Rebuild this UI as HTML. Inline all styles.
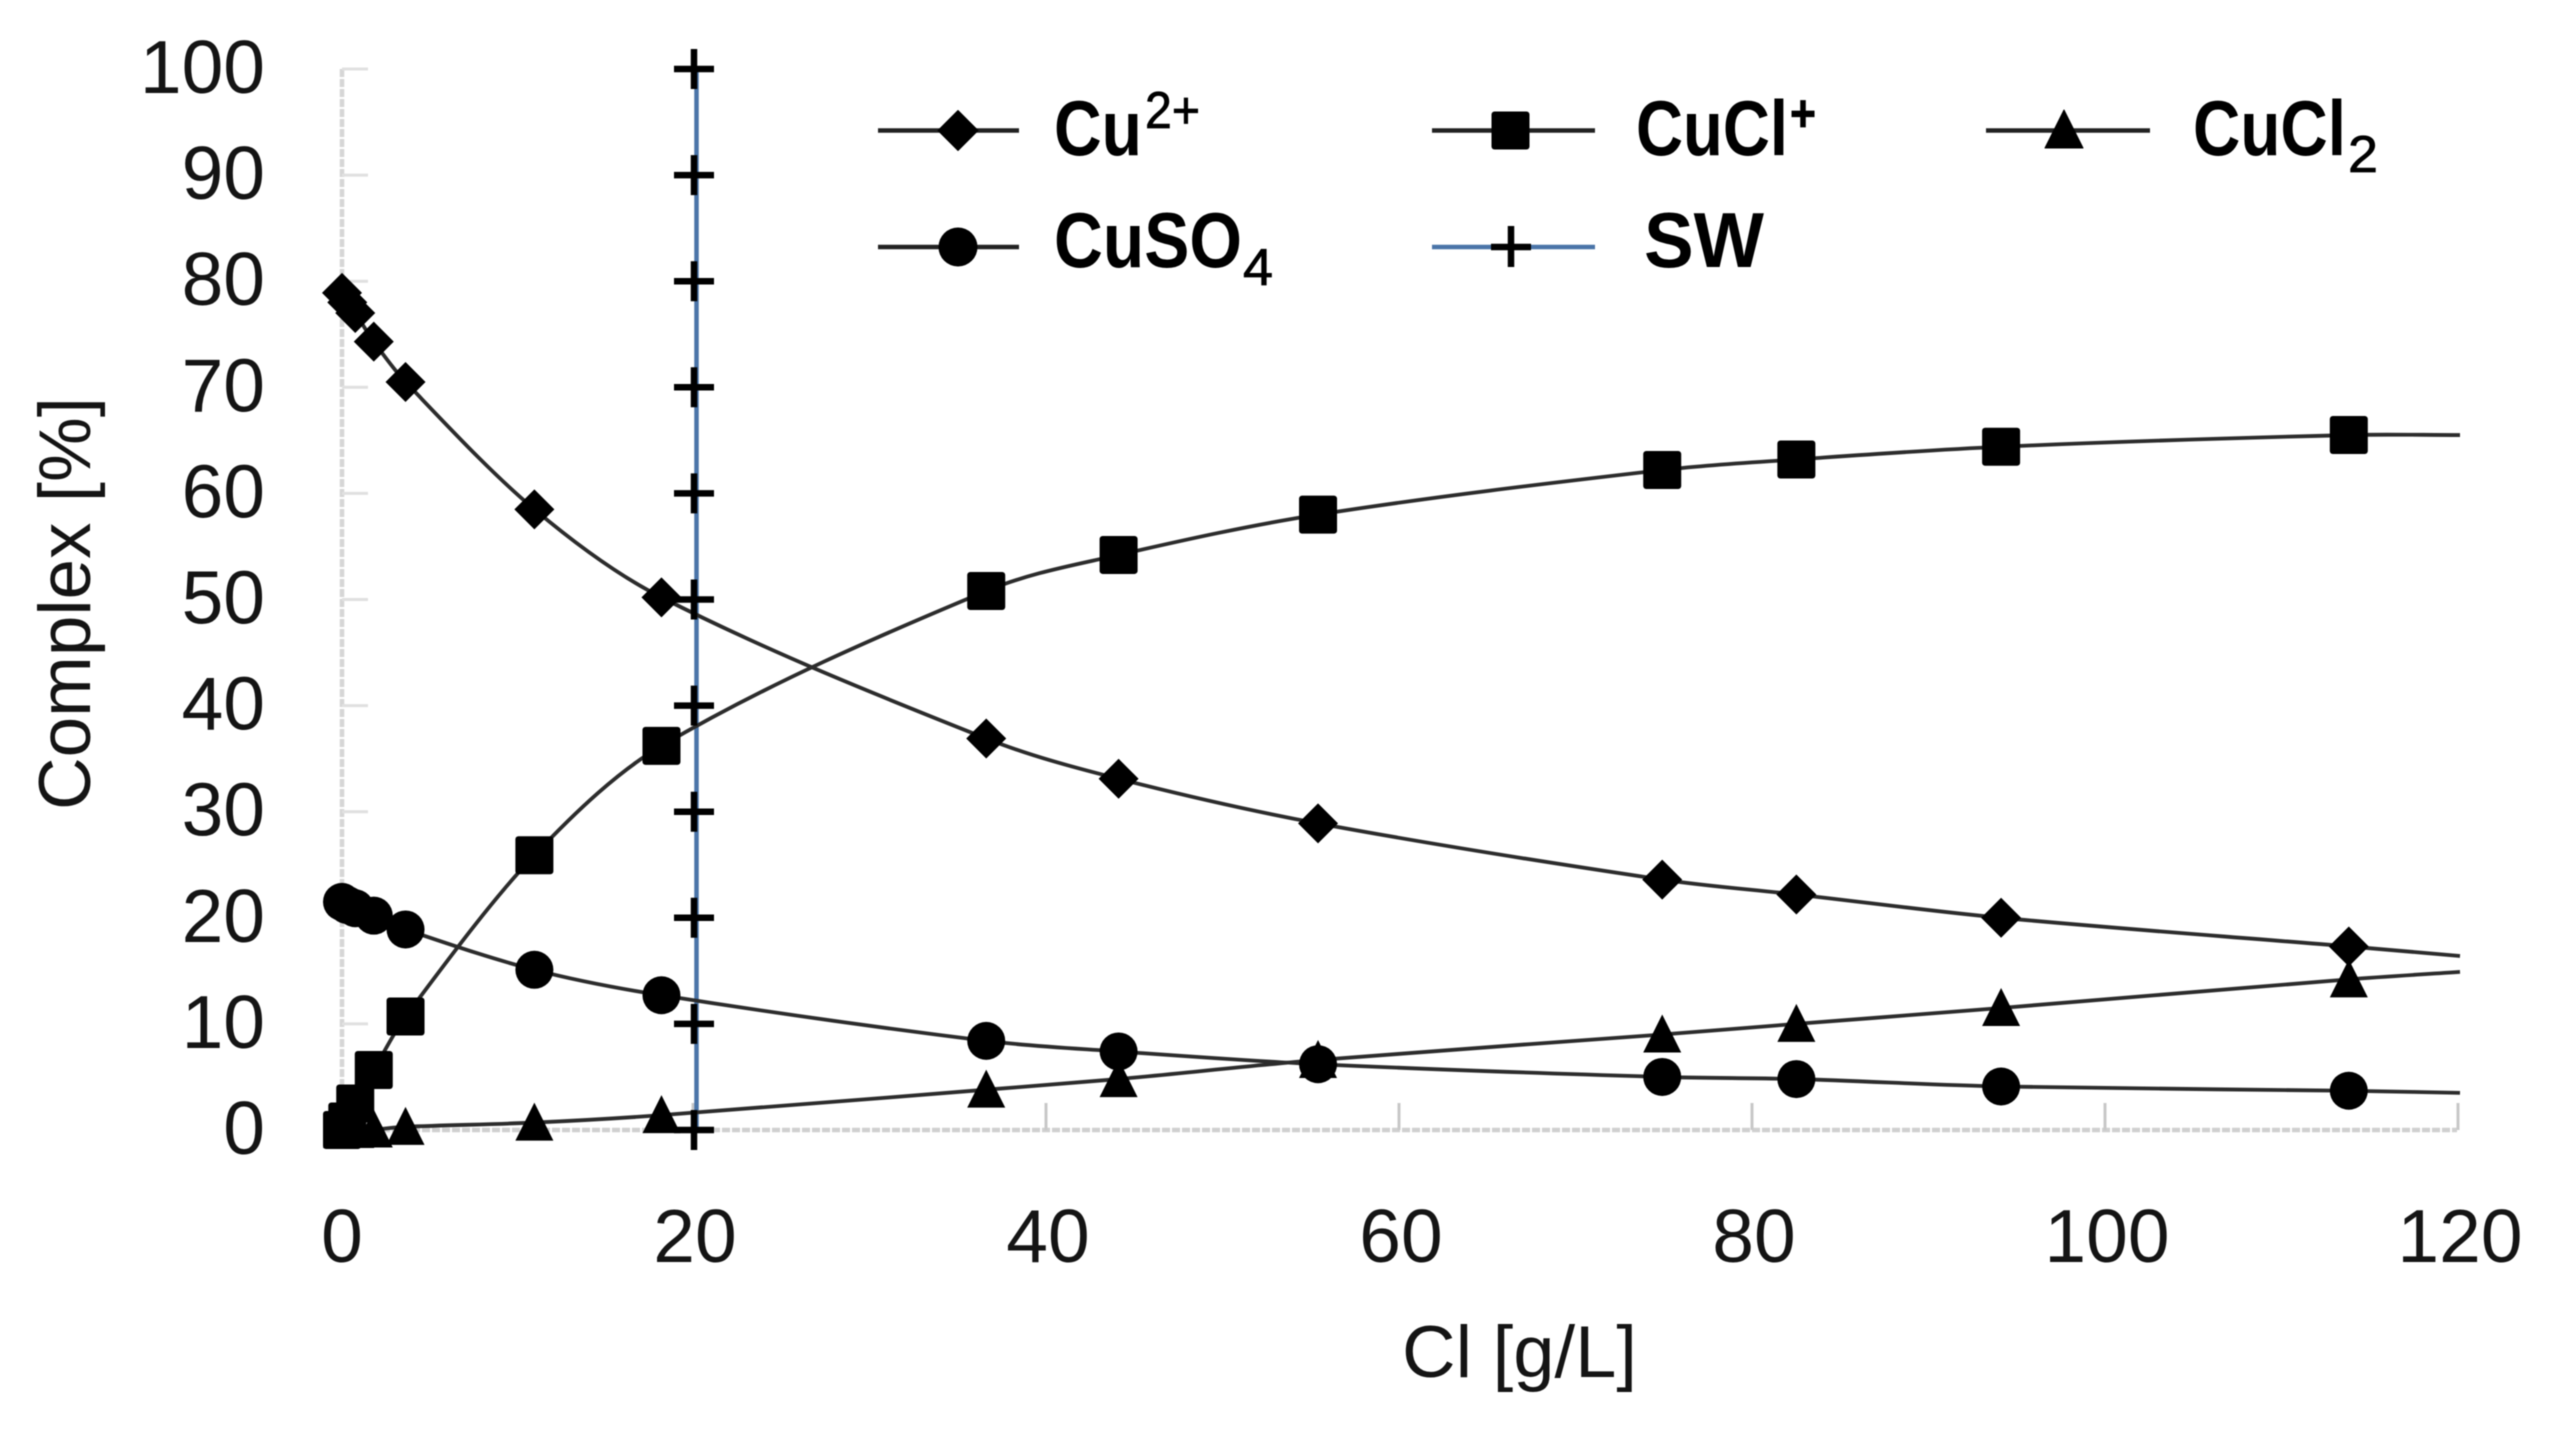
<!DOCTYPE html>
<html lang="en">
<head>
<meta charset="utf-8">
<title>Copper complex speciation vs chloride</title>
<style>
html,body{margin:0;padding:0;background:#fff;}
#chart{display:block;width:2558px;height:1445px;filter:blur(0.6px);}
text{font-family:"Liberation Sans",sans-serif;fill:#141414;}
.leg{font-weight:bold;fill:#000;font-size:78px;}
.legsub{fill:#000;font-size:52px;stroke:#000;stroke-width:0.8px;}
.tick{font-size:75px;}
.title{font-size:73px;}
</style>
</head>
<body>
<svg id="chart" xmlns="http://www.w3.org/2000/svg" width="2558" height="1445" viewBox="0 0 2558 1445">
  <rect x="0" y="0" width="2558" height="1445" fill="#fff"/>
  <g id="axes"></g>
  <g id="ticklabels"></g>
  <g id="series"></g>

  <text class="title" x="0" y="0" transform="translate(90,810) rotate(-90)" textLength="413" lengthAdjust="spacingAndGlyphs">Complex [%]</text>
  <text class="title" x="1402" y="1377" textLength="235" lengthAdjust="spacingAndGlyphs">Cl [g/L]</text>

  <g>
    <g>
      <line x1="878" y1="130.5" x2="1019" y2="130.5" stroke="#222" stroke-width="4.5"/>
      <path d="M958 110.5 L978 130.5 L958 150.5 L938 130.5 Z" fill="#000" stroke="#000" stroke-width="1" stroke-linejoin="round"/>
      <text class="leg" x="1054" y="155" textLength="88" lengthAdjust="spacingAndGlyphs">Cu</text>
      <text class="legsub" x="1145" y="128" textLength="55" lengthAdjust="spacingAndGlyphs">2+</text>
    </g>
    <g>
      <line x1="1432" y1="130.5" x2="1595" y2="130.5" stroke="#222" stroke-width="4.5"/>
      <rect x="1491.5" y="111.5" width="38" height="38" rx="3" fill="#000"/>
      <text class="leg" x="1636" y="155" textLength="152" lengthAdjust="spacingAndGlyphs">CuCl</text>
      <text class="legsub" x="1790" y="131" textLength="26" lengthAdjust="spacingAndGlyphs" font-weight="bold">+</text>
    </g>
    <g>
      <line x1="1986" y1="130.5" x2="2150" y2="130.5" stroke="#222" stroke-width="4.5"/>
      <path d="M2064 110 L2083 148 L2045 148 Z" fill="#000" stroke="#000" stroke-width="1" stroke-linejoin="round"/>
      <text class="leg" x="2193" y="155" textLength="153" lengthAdjust="spacingAndGlyphs">CuCl</text>
      <text class="legsub" x="2348" y="172" textLength="30" lengthAdjust="spacingAndGlyphs">2</text>
    </g>
    <g>
      <line x1="878" y1="247" x2="1019" y2="247" stroke="#222" stroke-width="4.5"/>
      <circle cx="958" cy="247" r="19.5" fill="#000"/>
      <text class="leg" x="1054" y="267" textLength="188" lengthAdjust="spacingAndGlyphs">CuSO</text>
      <text class="legsub" x="1243" y="285" textLength="30" lengthAdjust="spacingAndGlyphs">4</text>
    </g>
    <g>
      <line x1="1432" y1="247" x2="1595" y2="247" stroke="#4a74a8" stroke-width="4.5"/>
      <path d="M1491 247 H1531 M1511 226 V267" stroke="#000" stroke-width="6.5" fill="none"/>
      <text class="leg" x="1644" y="267" textLength="120" lengthAdjust="spacingAndGlyphs">SW</text>
    </g>
  </g>
</svg>
<script>
const xValues = [0, 0.3, 0.75, 1.8, 3.6, 10.9, 18.1, 36.5, 44, 55.3, 74.8, 82.4, 94, 113.7, 120];
const cuValues = [78.9, 78.0, 77.0, 74.3, 70.5, 58.5, 50.2, 36.9, 33.1, 28.9, 23.6, 22.2, 20.0, 17.3, 16.4];
const cuclValues = [0, 0.8, 2.5, 5.65, 10.7, 25.9, 36.2, 50.8, 54.2, 58.0, 62.2, 63.2, 64.4, 65.5, 65.5];
const cucl2Values = [0, 0, 0, 0.05, 0.3, 0.7, 1.4, 3.8, 4.8, 6.6, 9.0, 10.0, 11.5, 14.2, 14.9];
const cuso4Values = [21.5, 21.2, 20.9, 20.2, 18.9, 15.1, 12.7, 8.4, 7.4, 6.2, 5.0, 4.8, 4.1, 3.7, 3.5];
const swX = [20, 20, 20, 20, 20, 20, 20, 20, 20, 20, 20];
const swValues = [0, 10, 20, 30, 40, 50, 60, 70, 80, 90, 100];
const xTicks = [0, 20, 40, 60, 80, 100, 120];
const yTicks = [0, 10, 20, 30, 40, 50, 60, 70, 80, 90, 100];
const markedPoints = 14;

const NS = 'http://www.w3.org/2000/svg';
function sx(v) { return 342 + 17.65 * v; }
function sy(v) { return 1130 - 10.61 * v; }
function mk(tag, parent) {
  const el = document.createElementNS(NS, tag);
  parent.appendChild(el);
  return el;
}
function smoothPath(xs, ys) {
  const p = xs.map(function (x, i) { return [sx(x), sy(ys[i])]; });
  const n = p.length;
  const slope = p.map(function (q, i) {
    const a = p[Math.max(i - 1, 0)], b = p[Math.min(i + 1, n - 1)];
    return (b[1] - a[1]) / (b[0] - a[0]);
  });
  let d = 'M' + p[0][0] + ' ' + p[0][1];
  for (let i = 0; i < n - 1; i++) {
    const dx = p[i + 1][0] - p[i][0];
    d += ' C' + (p[i][0] + dx / 3) + ' ' + (p[i][1] + slope[i] * dx / 3) + ' ' +
      (p[i + 1][0] - dx / 3) + ' ' + (p[i + 1][1] - slope[i + 1] * dx / 3) + ' ' +
      p[i + 1][0] + ' ' + p[i + 1][1];
  }
  return d;
}

const axes = document.getElementById('axes');
const labels = document.getElementById('ticklabels');
const seriesGroup = document.getElementById('series');

const yAxis = mk('line', axes);
yAxis.setAttribute('x1', sx(0));
yAxis.setAttribute('x2', sx(0));
yAxis.setAttribute('y1', sy(100));
yAxis.setAttribute('y2', sy(0));
yAxis.setAttribute('stroke', '#d6d6d6');
yAxis.setAttribute('stroke-width', '4.5');
yAxis.setAttribute('stroke-dasharray', '8 2');



const xAxis = mk('line', axes);
xAxis.setAttribute('x1', sx(0));
xAxis.setAttribute('x2', sx(120) - 3);
xAxis.setAttribute('y1', sy(0));
xAxis.setAttribute('y2', sy(0));
xAxis.setAttribute('stroke', '#d0d0d0');
xAxis.setAttribute('stroke-width', '4.5');
xAxis.setAttribute('stroke-dasharray', '8 2');



yTicks.forEach(function (t) {
  const tk = mk('line', axes);
  tk.setAttribute('x1', sx(0));
  tk.setAttribute('x2', sx(0) + 26);
  tk.setAttribute('y1', sy(t));
  tk.setAttribute('y2', sy(t));
  tk.setAttribute('stroke', '#e0e0e0');
  tk.setAttribute('stroke-width', '3');
  
  
  const lb = mk('text', labels);
  lb.setAttribute('class', 'tick');
  lb.setAttribute('x', 265);
  lb.setAttribute('y', sy(t) + 24);
  lb.setAttribute('text-anchor', 'end');
  
  
  lb.textContent = String(t);
});

xTicks.forEach(function (t) {
  const tk = mk('line', axes);
  tk.setAttribute('x1', sx(t) - 2);
  tk.setAttribute('x2', sx(t) - 2);
  tk.setAttribute('y1', sy(0));
  tk.setAttribute('y2', sy(0) - 27);
  tk.setAttribute('stroke', '#c8c8c8');
  tk.setAttribute('stroke-width', '3');
  
  
  const lb = mk('text', labels);
  lb.setAttribute('class', 'tick');
  lb.setAttribute('x', sx(t));
  lb.setAttribute('y', 1262);
  lb.setAttribute('text-anchor', 'middle');
  
  
  lb.textContent = String(t);
});

/* seawater vertical reference line, under the other series */
const swLine = mk('path', seriesGroup);
swLine.setAttribute('d', swX.map(function (x, i) { return (i ? 'L' : 'M') + (sx(x) + 1.5) + ' ' + sy(swValues[i]); }).join(' '));
swLine.setAttribute('fill', 'none');
swLine.setAttribute('stroke', '#4a74a8');
swLine.setAttribute('stroke-width', '4.5');



function drawLine(values) {
  const l = mk('path', seriesGroup);
  l.setAttribute('d', smoothPath(xValues, values));
  l.setAttribute('fill', 'none');
  l.setAttribute('stroke', '#2c2c2c');
  l.setAttribute('stroke-width', '3.8');
  
  
}
drawLine(cuValues);
drawLine(cuclValues);
drawLine(cucl2Values);
drawLine(cuso4Values);

for (let i = 0; i < markedPoints; i++) {
  const m = mk('path', seriesGroup);
  const x = sx(xValues[i]), y = sy(cuValues[i]);
  m.setAttribute('d', 'M' + x + ' ' + (y - 20) + ' L' + (x + 20) + ' ' + y + ' L' + x + ' ' + (y + 20) + ' L' + (x - 20) + ' ' + y + ' Z');
  m.setAttribute('fill', '#000');
  
  
}
for (let i = 0; i < markedPoints; i++) {
  const m = mk('rect', seriesGroup);
  m.setAttribute('x', sx(xValues[i]) - 19);
  m.setAttribute('y', sy(cuclValues[i]) - 19);
  m.setAttribute('width', 38);
  m.setAttribute('height', 38);
  m.setAttribute('rx', 3);
  m.setAttribute('fill', '#000');
  
  
}
for (let i = 0; i < markedPoints; i++) {
  const m = mk('path', seriesGroup);
  const x = sx(xValues[i]), y = sy(cucl2Values[i]);
  m.setAttribute('d', 'M' + x + ' ' + (y - 20) + ' L' + (x + 19) + ' ' + (y + 18) + ' L' + (x - 19) + ' ' + (y + 18) + ' Z');
  m.setAttribute('fill', '#000');
  
  
}
for (let i = 0; i < markedPoints; i++) {
  const m = mk('circle', seriesGroup);
  m.setAttribute('cx', sx(xValues[i]));
  m.setAttribute('cy', sy(cuso4Values[i]));
  m.setAttribute('r', 19);
  m.setAttribute('fill', '#000');
  
  
}
swX.forEach(function (v, i) {
  const m = mk('path', seriesGroup);
  const x = sx(v) - 1, y = sy(swValues[i]);
  m.setAttribute('d', 'M' + (x - 20) + ' ' + y + ' H' + (x + 20) + ' M' + x + ' ' + (y - 20) + ' V' + (y + 20));
  m.setAttribute('fill', 'none');
  m.setAttribute('stroke', '#000');
  m.setAttribute('stroke-width', '6.5');
  
  
});
</script>
</body>
</html>
